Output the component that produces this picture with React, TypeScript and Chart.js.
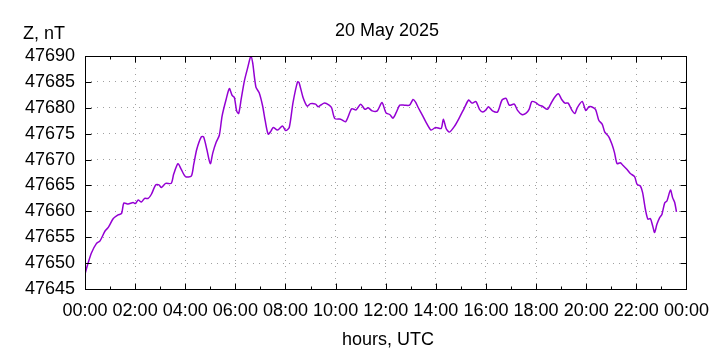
import React, { useEffect, useRef } from "react";
import { Chart, registerables } from "chart.js";

Chart.register(...registerables);

// Time of sample, decimal hours UTC
const hours = [
  0, 0.13, 0.26, 0.46, 0.6, 0.8, 0.93, 1.13, 1.32, 1.46, 1.55, 1.72, 1.92, 2.01,
  2.12, 2.25, 2.38, 2.52, 2.65, 2.82, 2.95, 3.05, 3.22, 3.44, 3.54, 3.71, 3.84,
  4.01, 4.24, 4.34, 4.46, 4.64, 4.73, 4.86, 5.0, 5.1, 5.23, 5.36, 5.47, 5.63,
  5.76, 5.87, 5.96, 6.05, 6.13, 6.23, 6.36, 6.49, 6.62, 6.69, 6.82, 6.95, 7.09,
  7.19, 7.31, 7.42, 7.51, 7.68, 7.88, 8.01, 8.15, 8.3, 8.48, 8.54, 8.7, 8.87,
  9.0, 9.2, 9.3, 9.4, 9.56, 9.74, 9.84, 9.97, 10.2, 10.4, 10.64, 10.82, 11.0,
  11.17, 11.3, 11.46, 11.66, 11.85, 12.01, 12.16, 12.29, 12.42, 12.56, 12.75,
  12.95, 13.09, 13.19, 13.28, 13.46, 13.62, 13.81, 13.99, 14.21, 14.3, 14.41,
  14.54, 14.74, 14.94, 15.14, 15.31, 15.44, 15.6, 15.74, 15.87, 16.0, 16.1,
  16.26, 16.46, 16.64, 16.8, 16.93, 17.13, 17.26, 17.43, 17.59, 17.72, 17.83,
  17.99, 18.12, 18.25, 18.45, 18.58, 18.72, 18.89, 19.02, 19.15, 19.28, 19.42,
  19.55, 19.64, 19.84, 19.98, 20.11, 20.21, 20.37, 20.5, 20.64, 20.74, 20.9,
  21.03, 21.13, 21.23, 21.36, 21.46, 21.63, 21.76, 21.93, 22.03, 22.16, 22.25,
  22.36, 22.46, 22.56, 22.65, 22.73, 22.82, 22.93, 23.02, 23.13, 23.22, 23.36,
  23.45, 23.53, 23.6,
];

// Z component, nT
const zValues = [
  47647.9, 47650.1, 47652.0, 47653.8, 47654.3, 47656.2, 47656.9, 47658.6,
  47659.3, 47659.6, 47661.6, 47661.4, 47661.7, 47661.5, 47662.2, 47661.8,
  47662.5, 47662.5, 47663.3, 47665.1, 47665.1, 47664.6, 47665.4, 47665.4,
  47667.2, 47669.2, 47668.1, 47666.7, 47666.8, 47669.1, 47672.0, 47674.4,
  47674.4, 47672.0, 47669.2, 47671.3, 47673.3, 47674.7, 47678.4, 47681.6,
  47683.7, 47682.4, 47682.0, 47679.4, 47678.9, 47681.6, 47685.2, 47687.7,
  47690.0, 47688.7, 47684.0, 47682.9, 47680.3, 47677.5, 47674.9, 47675.5,
  47676.2, 47675.7, 47676.5, 47675.6, 47676.2, 47681.0, 47685.0, 47684.9,
  47682.0, 47680.3, 47680.8, 47680.7, 47680.2, 47680.5, 47680.9, 47680.5,
  47680.0, 47677.9, 47677.8, 47677.3, 47679.8, 47679.6, 47680.7, 47679.7,
  47680.0, 47679.4, 47679.4, 47681.0, 47679.0, 47678.7, 47678.0, 47679.1,
  47680.5, 47680.5, 47680.5, 47681.6, 47681.1, 47680.2, 47678.6, 47677.1,
  47675.7, 47676.2, 47676.0, 47677.8, 47676.0, 47675.3, 47676.4, 47678.1,
  47680.0, 47681.5, 47680.9, 47681.2, 47679.7, 47679.2, 47679.6, 47680.2,
  47679.4, 47679.2, 47681.5, 47681.8, 47680.5, 47680.7, 47679.5, 47678.7,
  47678.9, 47679.7, 47681.2, 47681.0, 47680.5, 47680.3, 47679.7, 47680.7,
  47681.9, 47682.7, 47681.6, 47680.9, 47680.9, 47679.6, 47678.9, 47680.0,
  47681.2, 47679.5, 47680.2, 47680.2, 47679.7, 47677.6, 47676.8, 47675.3,
  47674.4, 47672.9, 47671.3, 47669.2, 47669.4, 47668.9, 47668.1, 47667.3,
  47666.7, 47665.2, 47664.9, 47663.6, 47660.4, 47658.5, 47658.6, 47657.2,
  47655.9, 47657.5, 47658.8, 47659.4, 47661.6, 47662.0, 47664.1, 47662.6,
  47661.7, 47659.9,
];

const xTickHours = [0, 2, 4, 6, 8, 10, 12, 14, 16, 18, 20, 22, 24];
const xMinorHours = [1, 3, 5, 7, 9, 11, 13, 15, 17, 19, 21, 23];
const yTickValues = [47645, 47650, 47655, 47660, 47665, 47670, 47675, 47680, 47685, 47690];

const titleText = "20 May 2025";
const yAxisLabel = "Z, nT";
const xAxisLabel = "hours, UTC";

const FONT_FAMILY = '"Liberation Sans", Arial, Helvetica, sans-serif';
const LINE_COLOR = "#9400d3";

const fmtHour = (v: number) => String(Math.round(v) % 24).padStart(2, "0") + ":00";

const framePlugin = {
  id: "gnuplotFrame",
  afterDatasetsDraw(chart: any) {
    const { ctx, chartArea, scales } = chart;
    const l = Math.round(chartArea.left) + 0.5;
    const r = Math.round(chartArea.right) + 0.5;
    const t = Math.round(chartArea.top) + 0.5;
    const b = Math.round(chartArea.bottom) + 0.5;
    ctx.save();
    ctx.strokeStyle = "#000";
    ctx.lineWidth = 1;
    ctx.setLineDash([]);
    ctx.strokeRect(l, t, r - l, b - t);
    ctx.beginPath();
    const xs = scales.x;
    const ys = scales.y;
    xTickHours.forEach((h) => {
      const px = Math.round(xs.getPixelForValue(h)) + 0.5;
      ctx.moveTo(px, b);
      ctx.lineTo(px, b - 6);
      ctx.moveTo(px, t);
      ctx.lineTo(px, t + 6);
    });
    xMinorHours.forEach((h) => {
      const px = Math.round(xs.getPixelForValue(h)) + 0.5;
      ctx.moveTo(px, b);
      ctx.lineTo(px, b - 3);
      ctx.moveTo(px, t);
      ctx.lineTo(px, t + 3);
    });
    yTickValues.forEach((v) => {
      const py = Math.round(ys.getPixelForValue(v)) + 0.5;
      ctx.moveTo(l, py);
      ctx.lineTo(l + 6, py);
      ctx.moveTo(r, py);
      ctx.lineTo(r - 6, py);
    });
    ctx.stroke();
    ctx.restore();
  },
  afterDraw(chart: any) {
    const { ctx } = chart;
    ctx.save();
    ctx.fillStyle = "#000";
    ctx.font = `18px ${FONT_FAMILY}`;
    ctx.textBaseline = "alphabetic";
    ctx.textAlign = "left";
    ctx.fillText(yAxisLabel, 23, 39);
    ctx.textAlign = "center";
    ctx.fillText(titleText, 387, 36);
    ctx.fillText(xAxisLabel, 388, 345);
    ctx.restore();
  },
};

export default function App() {
  const ref = useRef<HTMLCanvasElement>(null);
  useEffect(() => {
    if (!ref.current) return;
    const chart = new Chart(ref.current, {
      type: "line",
      data: {
        datasets: [
          {
            data: hours.map((h, i) => ({ x: h, y: zValues[i] })),
            borderColor: LINE_COLOR,
            borderWidth: 1.5,
            pointRadius: 0,
            tension: 0.25,
            fill: false,
          },
        ],
      },
      options: {
        animation: false,
        responsive: false,
        devicePixelRatio: 1,
        layout: { padding: { left: 0, right: 31, top: 56, bottom: 0 } },
        plugins: {
          legend: { display: false },
          tooltip: { enabled: false },
          title: { display: false },
        },
        scales: {
          x: {
            type: "linear",
            min: 0,
            max: 24,
            afterBuildTicks: (s: any) => {
              s.ticks = xTickHours.map((v) => ({ value: v }));
            },
            afterFit: (s: any) => {
              s.height = 61;
            },
            ticks: {
              autoSkip: false,
              maxRotation: 0,
              minRotation: 0,
              padding: 11,
              color: "#000",
              font: { family: FONT_FAMILY, size: 18 },
              callback: (v: any) => fmtHour(Number(v)),
            },
            grid: { color: "#a0a0a0", lineWidth: 1, drawTicks: false },
            border: { display: false, dash: [1, 5] },
          },
          y: {
            type: "linear",
            min: 47645,
            max: 47690,
            afterBuildTicks: (s: any) => {
              s.ticks = yTickValues.map((v) => ({ value: v }));
            },
            afterFit: (s: any) => {
              s.width = 85;
            },
            ticks: {
              autoSkip: false,
              padding: 10,
              color: "#000",
              font: { family: FONT_FAMILY, size: 18 },
              callback: (v: any) => String(v),
            },
            grid: { color: "#a0a0a0", lineWidth: 1, drawTicks: false },
            border: { display: false, dash: [1, 5] },
          },
        },
      },
      plugins: [framePlugin],
    });
    return () => chart.destroy();
  }, []);
  return (
    <div style={{ position: "fixed", left: 0, top: 0, width: 720, height: 350, background: "#fff" }}>
      <canvas ref={ref} width={720} height={350} style={{ display: "block", width: 720, height: 350 }} />
    </div>
  );
}
